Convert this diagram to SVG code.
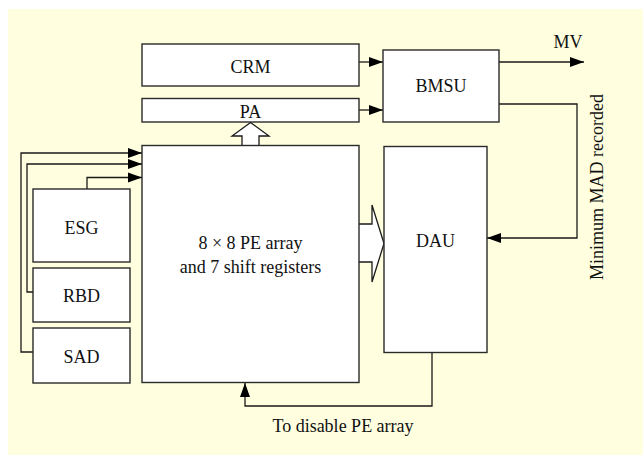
<svg xmlns="http://www.w3.org/2000/svg" width="643" height="455" viewBox="0 0 643 455">
  <style>
    .box { fill: #ffffff; stroke: #2a2a2a; stroke-width: 1.4; }
    .wire { fill: none; stroke: #1a1a1a; stroke-width: 1.3; }
    .block { fill: #ffffff; stroke: #1a1a1a; stroke-width: 1.3; stroke-linejoin: miter; }
    text { font-family: "Liberation Serif", "Times New Roman", serif; font-size: 18px; fill: #111111; }
    .c { text-anchor: middle; }
  </style>
  <defs>
    <marker id="arrow" markerUnits="userSpaceOnUse" markerWidth="14" markerHeight="12" viewBox="0 0 14 12" refX="14" refY="6" orient="auto">
      <path d="M0,1 L14,6 L0,11 Z" fill="#000000"/>
    </marker>
  </defs>

  <!-- background panel -->
  <rect x="8" y="9" width="635" height="446" fill="#ffffe0"/>

  <!-- connectors -->
  <g id="connectors">
    <!-- SAD, RBD, ESG feed the PE array -->
    <polyline class="wire" points="33,352 21,352 21,153 142,153" marker-end="url(#arrow)"/>
    <polyline class="wire" points="33,292 27,292 27,164 142,164" marker-end="url(#arrow)"/>
    <polyline class="wire" points="87,189 87,177.5 142,177.5" marker-end="url(#arrow)"/>
    <!-- CRM / PA to BMSU -->
    <line class="wire" x1="359" y1="62" x2="383" y2="62" marker-end="url(#arrow)"/>
    <line class="wire" x1="359" y1="110" x2="383" y2="110" marker-end="url(#arrow)"/>
    <!-- motion vector output -->
    <line class="wire" x1="499" y1="62" x2="584" y2="62" marker-end="url(#arrow)"/>
    <!-- minimum MAD feedback to DAU -->
    <polyline class="wire" points="499,104 577,104 577,238 487,238" marker-end="url(#arrow)"/>
    <!-- DAU disables the PE array -->
    <polyline class="wire" points="432,353 432,406 245,406 245,383" marker-end="url(#arrow)"/>
    <!-- wide data paths -->
    <path class="block" d="M242,145 L242,136 L232,136 L250.5,122.5 L269,136 L259,136 L259,145"/>
    <path class="block" d="M359,224 L372,224 L372,205 L384,243.5 L372,282 L372,262 L359,262"/>
  </g>

  <g id="crm">
    <rect class="box" x="142" y="44" width="217" height="42"/>
    <text class="c" x="250.5" y="73">CRM</text>
  </g>
  <g id="pa">
    <rect class="box" x="142" y="98.5" width="217" height="23.5"/>
    <text class="c" x="250.5" y="117.5">PA</text>
  </g>
  <g id="pe-array">
    <rect class="box" x="142" y="145.5" width="217" height="237"/>
    <text class="c" x="250.5" y="249">8 × 8 PE array</text>
    <text class="c" x="250.5" y="273">and 7 shift registers</text>
  </g>
  <g id="esg">
    <rect class="box" x="33" y="189" width="97" height="73"/>
    <text class="c" x="81.5" y="234">ESG</text>
  </g>
  <g id="rbd">
    <rect class="box" x="33" y="268" width="97" height="54"/>
    <text class="c" x="81.5" y="301.5">RBD</text>
  </g>
  <g id="sad">
    <rect class="box" x="33" y="328" width="97" height="55"/>
    <text class="c" x="81.5" y="363">SAD</text>
  </g>
  <g id="bmsu">
    <rect class="box" x="383" y="50" width="116" height="72"/>
    <text class="c" x="441" y="92">BMSU</text>
  </g>
  <g id="dau">
    <rect class="box" x="384" y="146.5" width="103" height="206"/>
    <text class="c" x="435.5" y="247">DAU</text>
  </g>

  <!-- labels -->
  <text class="c" x="568" y="48">MV</text>
  <text class="c" transform="translate(603,187) rotate(-90)">Minimum MAD recorded</text>
  <text class="c" x="343" y="432">To disable PE array</text>
</svg>
